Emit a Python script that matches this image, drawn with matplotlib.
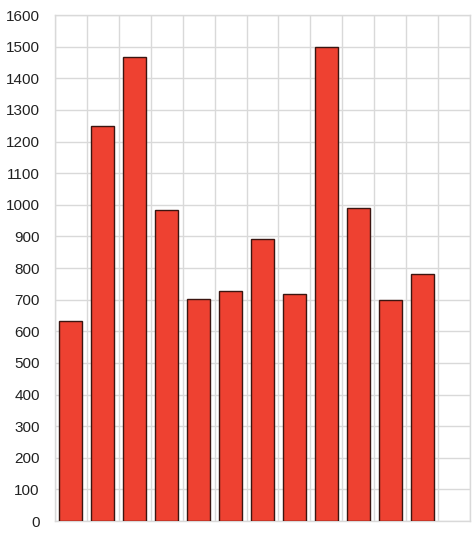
import matplotlib
matplotlib.use("Agg")
import matplotlib.pyplot as plt
import numpy as np

# bar heights; last slot stays empty
values = [633, 1250, 1467, 984, 701, 728, 892, 718, 1500, 990, 699, 781]
n_slots = 13
y_ticks = list(range(0, 1700, 100))

plt.rcParams['font.family'] = ['Liberation Sans', 'DejaVu Sans']

fig = plt.figure(figsize=(4.75, 5.34), dpi=100)
ax = fig.add_axes([0.1158, 0.0243, 0.8737, 0.9476])

x = np.arange(len(values)) + 0.5
ax.bar(x, values, width=0.72, color='#ee4131', edgecolor='#3b1510', linewidth=1.0, zorder=3)

ax.set_xlim(0, n_slots)
ax.set_ylim(0, 1600)
ax.set_xticks(np.arange(n_slots + 1))
ax.set_yticks(y_ticks)
ax.set_yticklabels([str(t) for t in y_ticks], fontsize=11, color='#222222')
ax.tick_params(axis='x', length=0, labelbottom=False)
ax.tick_params(axis='y', length=0, pad=11)
ax.grid(True, color='#d9d9d9', linewidth=1.0, zorder=0)
for s in ax.spines.values():
    s.set_color('#d9d9d9')
    s.set_linewidth(1.0)

fig.savefig('out.png', dpi=100)
